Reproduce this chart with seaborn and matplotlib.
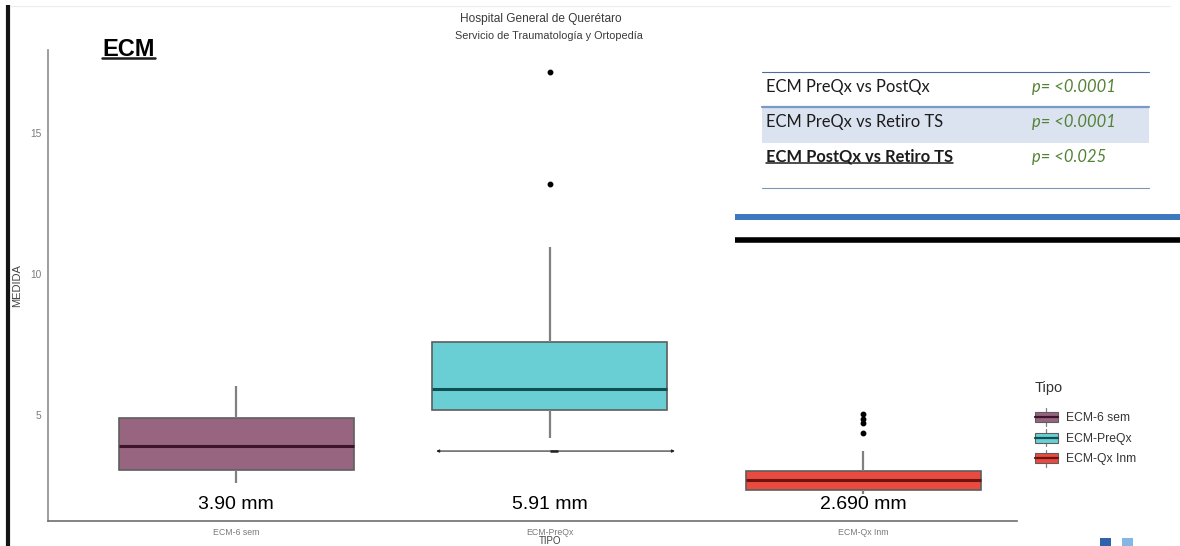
import numpy as np
import pandas as pd
import matplotlib
matplotlib.use("Agg")
import matplotlib.pyplot as plt
import seaborn as sns
from matplotlib.lines import Line2D
from matplotlib.patches import Rectangle, Patch
from matplotlib.legend_handler import HandlerBase

# ---- data -----------------------------------------------------------------
tipos = ["ECM-6 sem", "ECM-PreQx", "ECM-Qx Inm"]
ecm_6sem = [2.58, 3.05, 3.90, 4.88, 6.03]
ecm_preqx = [4.17, 4.55, 4.90, 5.18, 5.40, 5.70, 5.91, 6.40, 7.05, 7.60,
             10.95, 13.19, 17.16]
ecm_qxinm = [1.98, 2.10, 2.20, 2.25, 2.30, 2.34, 2.40, 2.50, 2.58, 2.64,
             2.69, 2.75, 2.82, 2.90, 2.97, 3.03, 3.73, 4.35, 4.71, 4.86, 5.04]
formato_mediana = ["{:.2f} mm", "{:.2f} mm", "{:.3f} mm"]

comparaciones = ["ECM PreQx vs PostQx", "ECM PreQx vs Retiro TS",
                 "ECM PostQx vs Retiro TS"]
p_valores = ["p= <0.0001", "p= <0.0001", "p= <0.025"]

# horizontal reference span drawn across the PreQx box
span_tipo = "ECM-PreQx"
span_desde, span_hasta = -0.362, 0.399
span_nivel = 3.72

df = pd.DataFrame({
    "TIPO": np.repeat(tipos, [len(ecm_6sem), len(ecm_preqx), len(ecm_qxinm)]),
    "MEDIDA": ecm_6sem + ecm_preqx + ecm_qxinm,
})

# ---- style ----------------------------------------------------------------
sns.set_style("white")
plt.rcParams["font.family"] = ["Liberation Sans", "DejaVu Sans"]

rellenos = ["#976580", "#6acfd4", "#e94b40"]
medianas_col = ["#3d1429", "#0f4f52", "#6e140f"]

W, H = 1180, 546
fig = plt.figure(figsize=(W / 100, H / 100), dpi=100)


def fx(px):
    return px / W


def fy(py):
    return 1 - py / H


ax = fig.add_axes([fx(48), fy(521), fx(1017) - fx(48), fy(50) - fy(521)])

for i, tipo in enumerate(tipos):
    sub = df[df["TIPO"] == tipo]
    sns.boxplot(
        data=sub, x="TIPO", y="MEDIDA", order=tipos, ax=ax,
        color=rellenos[i], saturation=1, width=0.75,
        linecolor="#5e5e5e", linewidth=1.2, showcaps=False,
        whiskerprops=dict(color="#808080", linewidth=1.6),
        medianprops=dict(color=medianas_col[i], linewidth=2.2),
        flierprops=dict(marker="o", markerfacecolor="black",
                        markeredgecolor="black", markersize=3.2),
    )

ax.set_xlim(-0.6, 2.49)
ax.set_ylim(1.24, 17.94)
ax.set_yticks([5, 10, 15])
ax.tick_params(axis="both", colors="#8a8a8a", length=3, width=0.8,
               labelcolor="#7a7a7a")
ax.tick_params(axis="y", labelsize=7.3, pad=2)
ax.tick_params(axis="x", labelsize=6.3, pad=2)
for s in ["top", "right"]:
    ax.spines[s].set_visible(False)
ax.spines["left"].set_color("#8c8c8c")
ax.spines["left"].set_linewidth(1.2)
ax.spines["bottom"].set_color("#6e6e6e")
ax.spines["bottom"].set_linewidth(1.2)

ax.set_ylabel("MEDIDA", fontsize=8, color="#444444")
ax.yaxis.set_label_coords((22 - 48) / 969, 0.5)
ax.set_xlabel("TIPO", fontsize=7, color="#444444", va="center")
ax.xaxis.set_label_coords((550 - 48) / 969, (521 - 540.5) / 471)

# median labels under each box
for i, (tipo, vals) in enumerate(zip(tipos, [ecm_6sem, ecm_preqx, ecm_qxinm])):
    ax.text(i, 1.81, formato_mediana[i].format(np.median(vals)),
            ha="center", va="center", fontsize=14, color="black",
            bbox=dict(facecolor="white", edgecolor="none", pad=1.5))

# reference span with small arrow heads
xc = tipos.index(span_tipo)
ax.annotate("", xy=(xc + span_hasta, span_nivel), xytext=(xc + span_desde, span_nivel),
            arrowprops=dict(arrowstyle="<|-|>", lw=0.8, color="#222222",
                            mutation_scale=4, shrinkA=0, shrinkB=0))
ax.plot([xc, xc + 0.025], [span_nivel, span_nivel], color="#222222", lw=1.8,
        solid_capstyle="butt")


# ---- legend with box-shaped keys ---------------------------------------------
class BoxKey(HandlerBase):
    def __init__(self, med):
        super().__init__()
        self.med = med

    def create_artists(self, legend, orig_handle, xdescent, ydescent, width,
                       height, fontsize, trans):
        x0, y0 = -xdescent, -ydescent
        cx = x0 + width / 2
        box = Rectangle((x0, y0 + 0.14 * height), width, 0.72 * height,
                        facecolor=orig_handle.get_facecolor(),
                        edgecolor="#5e5e5e", lw=0.8, transform=trans)
        med = Line2D([x0, x0 + width], [y0 + height / 2] * 2, color=self.med,
                     lw=1.6, transform=trans)
        w1 = Line2D([cx, cx], [y0 - 0.12 * height, y0 + 0.14 * height],
                    color="#808080", lw=0.9, transform=trans)
        w2 = Line2D([cx, cx], [y0 + 0.86 * height, y0 + 1.12 * height],
                    color="#808080", lw=0.9, transform=trans)
        return [w1, w2, box, med]


handles = [Patch(facecolor=c) for c in rellenos]
leg = fig.legend(handles, tipos, title="Tipo", loc="upper left",
                 bbox_to_anchor=(fx(1030), fy(376)), frameon=False,
                 fontsize=8.7, title_fontsize=10.5, handlelength=1.9,
                 handleheight=1.4, labelspacing=0.55, handletextpad=0.65,
                 borderaxespad=0,
                 handler_map={h: BoxKey(m) for h, m in zip(handles, medianas_col)})
leg._legend_box.align = "left"
leg._legend_box.sep = 11
for t in leg.get_texts():
    t.set_color("#333333")
leg.get_title().set_color("#333333")

# ---- headings ---------------------------------------------------------------
fig.text(fx(541), fy(19), "Hospital General de Querétaro", ha="center",
         va="center", fontsize=8.6, color="#3a3a3a")
fig.text(fx(549), fy(36), "Servicio de Traumatología y Ortopedía", ha="center",
         va="center", fontsize=7.8, color="#3a3a3a")
ecm = fig.text(fx(102), fy(49), "ECM", ha="left", va="center", fontsize=17,
               fontweight="bold", color="black")

# ---- comparison table -------------------------------------------------------
fig.add_artist(Rectangle((fx(762), fy(142.7)), fx(1149) - fx(762),
                         fy(107.5) - fy(142.7), transform=fig.transFigure,
                         facecolor="#dbe2f0", edgecolor="none"))
for ypx, col, lw in [(71.7, "#4d6d96", 0.8), (106.7, "#7c98c6", 1.6),
                     (187.7, "#7f95b8", 0.8)]:
    fig.add_artist(Line2D([fx(762), fx(1149)], [fy(ypx)] * 2, color=col,
                          lw=lw, transform=fig.transFigure))

fila_y = [86.7, 121.7, 156.7]
textos_tabla = []
for k, (comp, p) in enumerate(zip(comparaciones, p_valores)):
    t = fig.text(fx(766), fy(fila_y[k]), comp, ha="left", va="center",
                 fontsize=11.9, family="Lato", color="#1c1c1c",
                 fontweight="bold" if k == 2 else "normal")
    textos_tabla.append(t)
    fig.text(fx(1032), fy(fila_y[k]), p, ha="left", va="center", fontsize=11.9,
             family="Lato", style="italic", color="#548235")

# thick separator rules
fig.add_artist(Line2D([fx(735), 1], [fy(217)] * 2, color="#3c78bf", lw=4.3,
                      transform=fig.transFigure, solid_capstyle="butt"))
fig.add_artist(Line2D([fx(735), 1], [fy(239.5)] * 2, color="black", lw=4.0,
                      transform=fig.transFigure, solid_capstyle="butt"))

# page edge marks
fig.add_artist(Line2D([fx(8)] * 2, [0, fy(5)], color="#151515", lw=3.0,
                      transform=fig.transFigure, solid_capstyle="butt"))
fig.add_artist(Line2D([fx(10), fx(1170)], [fy(6)] * 2, color="#ececec", lw=0.8,
                      transform=fig.transFigure))
fig.add_artist(Rectangle((fx(1100), 0), fx(11), fy(538), transform=fig.transFigure,
                         facecolor="#2f62aa", edgecolor="none"))
fig.add_artist(Rectangle((fx(1122), 0), fx(11), fy(538), transform=fig.transFigure,
                         facecolor="#86b6e4", edgecolor="none"))

# underlines for the emphasised labels
fig.canvas.draw()
rend = fig.canvas.get_renderer()
inv = fig.transFigure.inverted()
for t, gap, lw in [(ecm, 2.5, 1.8), (textos_tabla[2], 2.0, 1.1)]:
    bb = t.get_window_extent(renderer=rend)
    (x0, y0), (x1, _) = inv.transform([(bb.x0, bb.y0), (bb.x1, bb.y1)])
    fig.add_artist(Line2D([x0, x1], [y0 + gap / H] * 2, color="#1c1c1c",
                          lw=lw, transform=fig.transFigure))

fig.savefig("out.png", dpi=100)
